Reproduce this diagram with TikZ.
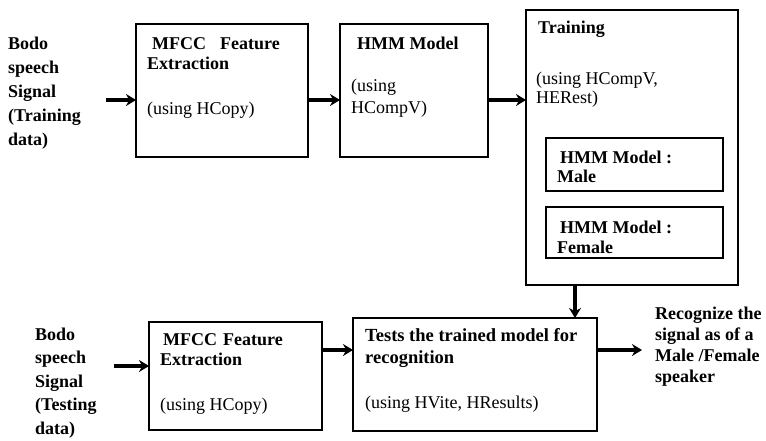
\documentclass[tikz,border=0pt]{standalone}
\usepackage{fontspec}
\setmainfont{Liberation Serif}
\usetikzlibrary{arrows.meta}
% stacked lines whose baseline is that of the first line
\newcommand\linestack[2]{\vtop{\baselineskip=#1\relax\halign{##\hfil\cr #2\crcr}}}
\begin{document}
\begin{tikzpicture}[x=1pt,y=-1pt,
  box/.style={draw=black,line width=2.2pt,anchor=north west,inner sep=0pt,outer sep=0pt},
  lbl/.style={anchor=base west,inner sep=0pt,font=\fontsize{18}{20}\selectfont\bfseries},
  note/.style={anchor=base west,inner sep=0pt,font=\fontsize{18}{20}\selectfont},
  flow/.style={line width=3.2pt,-{Stealth[length=10pt,width=12pt]}}]
\useasboundingbox[fill=white] (0,0) rectangle (766,440);

% training chain boxes
\node[box,minimum width=172pt,minimum height=133pt] (mfccA) at (136,24) {};
\node[box,minimum width=148pt,minimum height=133pt] (hmmA) at (340,24) {};
\node[box,minimum width=212pt,minimum height=275pt] (train) at (526,10) {};
\node[box,minimum width=177pt,minimum height=53pt] (male) at (546,138) {};
\node[box,minimum width=177pt,minimum height=51pt] (female) at (546,207) {};

% testing chain boxes
\node[box,minimum width=173pt,minimum height=108pt] (mfccB) at (149,322) {};
\node[box,minimum width=244pt,minimum height=113pt] (test) at (353,318) {};

% texts of the training chain
\node[lbl] (srcA) at (8,49) {\linestack{24pt}{Bodo\cr speech\cr Signal\cr (Training\cr data)}};
\node[lbl] (mfccAt) at (147,49) {\linestack{20pt}{\hspace{5pt}MFCC\hspace{14pt}Feature\cr Extraction}};
\node[note] (mfccAu) at (147,114) {(using HCopy)};
\node[lbl] (hmmAt) at (357,49) {HMM Model};
\node[note] (hmmAu) at (351,91) {\linestack{22pt}{(using\cr HCompV)}};
\node[lbl] (traint) at (538,33) {Training};
\node[note] (trainu) at (536,84) {\linestack{19pt}{(using HCompV,\cr HERest)}};
\node[lbl] (malet) at (557,163) {\linestack{19pt}{\hspace{3pt}HMM Model :\cr Male}};
\node[lbl] (femalet) at (557,233) {\linestack{20pt}{\hspace{3pt}HMM Model :\cr Female}};

% texts of the testing chain
\node[lbl] (srcB) at (35,340) {\linestack{23.5pt}{Bodo\cr speech\cr Signal\cr (Testing\cr data)}};
\node[lbl] (mfccBt) at (160,345) {\linestack{20pt}{\hspace{3pt}MFCC\hspace{6pt}Feature\cr Extraction}};
\node[note] (mfccBu) at (160,410) {(using HCopy)};
\node[lbl,font=\fontsize{18.5}{22}\selectfont\bfseries] (testt) at (365,341) {\linestack{22pt}{Tests the trained model for\cr recognition}};
\node[note] (testu) at (365,408) {(using HVite, HResults)};
\node[lbl] (result) at (655,319) {\linestack{21pt}{Recognize the\cr signal as of a\cr Male /Female\cr speaker}};

% connector anchors
\coordinate (inA) at (106,100);
\coordinate (inB) at (114,366);
\coordinate (rowB) at (0,350);
\coordinate (down) at (575,0);
\coordinate (outB) at (642,350);

% connectors
\draw[flow] (inA) -- (mfccA.west |- inA);
\draw[flow] (mfccA.east |- inA) -- (hmmA.west |- inA);
\draw[flow] (hmmA.east |- inA) -- (train.west |- inA);
\draw[flow] (train.south -| down) -- (test.north -| down);
\draw[flow] (inB) -- (mfccB.west |- inB);
\draw[flow] (mfccB.east |- rowB) -- (test.west |- rowB);
\draw[flow] (test.east |- rowB) -- (outB);
\end{tikzpicture}
\end{document}
